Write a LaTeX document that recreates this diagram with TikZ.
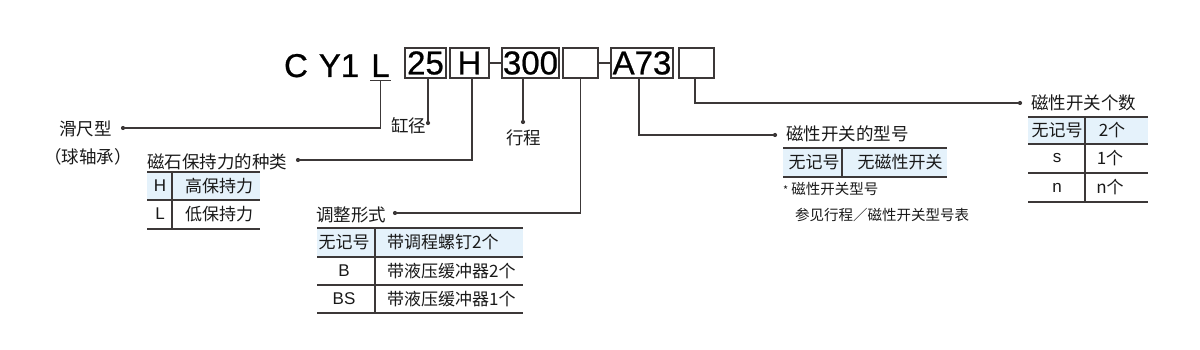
\documentclass[tikz,border=0pt]{standalone}
\usepackage{fontspec}
\setmainfont{Liberation Sans}
\newfontfamily\cjk{Noto Sans CJK SC}
\newfontfamily\hdrfont{Liberation Sans}[FakeBold=0.7]
\definecolor{ln}{RGB}{60,56,56}
\definecolor{rowblue}{RGB}{229,242,251}
\begin{document}
\begin{tikzpicture}[x=1pt,y=-1pt,
  hdr/.style={font=\hdrfont\fontsize{33}{33}\selectfont, text=black, inner sep=0pt},
  codebox/.style={draw=ln, line width=1.1pt, minimum height=30pt, inner sep=0pt, font=\hdrfont\fontsize{33}{33}\selectfont},
  lab/.style={font=\cjk\fontsize{17.5}{17.5}\selectfont, text=black!90, inner sep=0pt, anchor=base west},
  note/.style={font=\cjk\fontsize{14.5}{14.5}\selectfont, text=black!90, inner sep=0pt, anchor=base west},
  cell/.style={font=\cjk\fontsize{17}{17}\selectfont, text=black!90, inner sep=0pt},
  lcell/.style={font=\fontsize{17}{17}\selectfont, text=black!90, inner sep=0pt},
  dot/.style={circle, fill=ln, minimum size=4.2pt, inner sep=0pt},
  conn/.style={draw=ln, line width=1.1pt},
  hline/.style={draw=ln, line width=1.4pt},
  vline/.style={draw=ln, line width=1.2pt}]
\useasboundingbox (0,0) rectangle (1200,350);

% header
\node[hdr, anchor=base] (tC) at (296,77) {C};
\node[hdr, anchor=base] (tY) at (339,77) {Y1};
\node[hdr, anchor=base] (tL) at (380.5,77) {L};
\node[codebox, minimum width=41pt] (b25) at (425.5,63) {\raisebox{-1pt}{25}};
\node[codebox, minimum width=39pt] (bH) at (469.5,63) {\raisebox{-1pt}{H}};
\node[codebox, minimum width=57pt] (b300) at (530.5,63) {\raisebox{-1pt}{300}};
\node[codebox, minimum width=35pt] (bE1) at (580.5,63) {};
\node[codebox, minimum width=62pt] (bA) at (642,63) {\raisebox{-1pt}{A73}};
\node[codebox, minimum width=35pt] (bE2) at (696.5,63) {};
\draw[conn] (bH.east) -- (b300.west);
\draw[conn] (bE1.east) -- (bA.west);
\coordinate (uL) at (370,80.5);
\coordinate (uR) at (391,80.5);
\draw[conn] (uL) -- (uR);
\coordinate (Lb) at (380.5,80.5);

% dots
\node[dot] (dSl) at (123,128) {};
\node[dot] (d25) at (428,123) {};
\node[dot] (dH) at (298,160) {};
\node[dot] (d300) at (523,122) {};
\node[dot] (dAdj) at (395,213) {};
\node[dot] (dSw) at (775,135) {};
\node[dot] (dN) at (1020,103) {};

% connectors
\draw[conn] (dSl) -| (Lb);
\draw[conn] (b25.south -| d25) -- (d25);
\draw[conn] (dH) -| ([xshift=2.5pt]bH.south);
\draw[conn] (b300.south -| d300) -- (d300);
\draw[conn] (dAdj) -| (bE1.south);
\draw[conn] ([xshift=-3pt]bA.south) |- (dSw);
\draw[conn] ([xshift=-1.5pt]bE2.south) |- (dN);

% labels
\node[lab] (l1) at (59,136) {滑尺型};
\node[lab] (l1b) at (44,164) {（球轴承）};
\node[lab] (l2) at (147,168) {磁石保持力的种类};
\node[lab] (l3) at (391,133) {缸径};
\node[lab] (l4) at (506,145) {行程};
\node[lab] (l5) at (316,221) {调整形式};
\node[lab] (l6) at (786,141) {磁性开关的型号};
\node[lab] (l7) at (1031,110) {磁性开关个数};
\node[note] (n1) at (783,195) {\fontsize{11}{11}\selectfont *\hspace{3pt}\fontsize{14.5}{14.5}\selectfont 磁性开关型号};
\node[note] (n2) at (795,220) {参见行程／磁性开关型号表};

% table: magnet holding force
\fill[rowblue] (147,172) rectangle (260,200);
\draw[hline] (147,172) -- (260,172);
\draw[hline] (147,200) -- (260,200);
\draw[hline] (147,229) -- (260,229);
\draw[vline] (172,172) -- (172,229);
\node[lcell] (tH) at (160,186) {H};
\node[cell] (tH2) at (219,186) {高保持力};
\node[lcell] (tLo) at (160,214) {L};
\node[cell] (tL2) at (219,214) {低保持力};

% table: adjustment
\fill[rowblue] (317,228) rectangle (523,257);
\draw[hline] (317,228) -- (523,228);
\draw[hline] (317,257) -- (523,257);
\draw[hline] (317,285) -- (523,285);
\draw[hline] (317,313) -- (523,313);
\draw[vline] (375,228) -- (375,313);
\node[cell] (a1) at (344,242.5) {无记号};
\node[cell, anchor=west] (a2) at (387,242.5) {带调程螺钉2个};
\node[lcell] (a3) at (344,271) {B};
\node[cell, anchor=west] (a4) at (387,271) {带液压缓冲器2个};
\node[lcell] (a5) at (344,299) {BS};
\node[cell, anchor=west] (a6) at (387,299) {带液压缓冲器1个};

% table: switch type
\fill[rowblue] (783,148) rectangle (947,177);
\draw[hline] (783,148) -- (947,148);
\draw[hline] (783,177) -- (947,177);
\draw[vline] (842,148) -- (842,177);
\node[cell] (s1) at (814,162.5) {无记号};
\node[cell] (s2) at (900,162.5) {无磁性开关};

% table: number of switches
\fill[rowblue] (1028,117) rectangle (1148,144);
\draw[hline] (1028,117) -- (1148,117);
\draw[hline] (1028,144) -- (1148,144);
\draw[hline] (1028,173) -- (1148,173);
\draw[hline] (1028,202) -- (1148,202);
\draw[vline] (1085,117) -- (1085,202);
\node[cell] (c1) at (1057,130.5) {无记号};
\node[cell] (c2) at (1112,130.5) {2个};
\node[lcell] (c3) at (1057,158.5) {s};
\node[cell] (c4) at (1110,158.5) {1个};
\node[lcell] (c5) at (1057,187.5) {n};
\node[cell] (c6) at (1110,187.5) {n个};
\end{tikzpicture}
\end{document}
